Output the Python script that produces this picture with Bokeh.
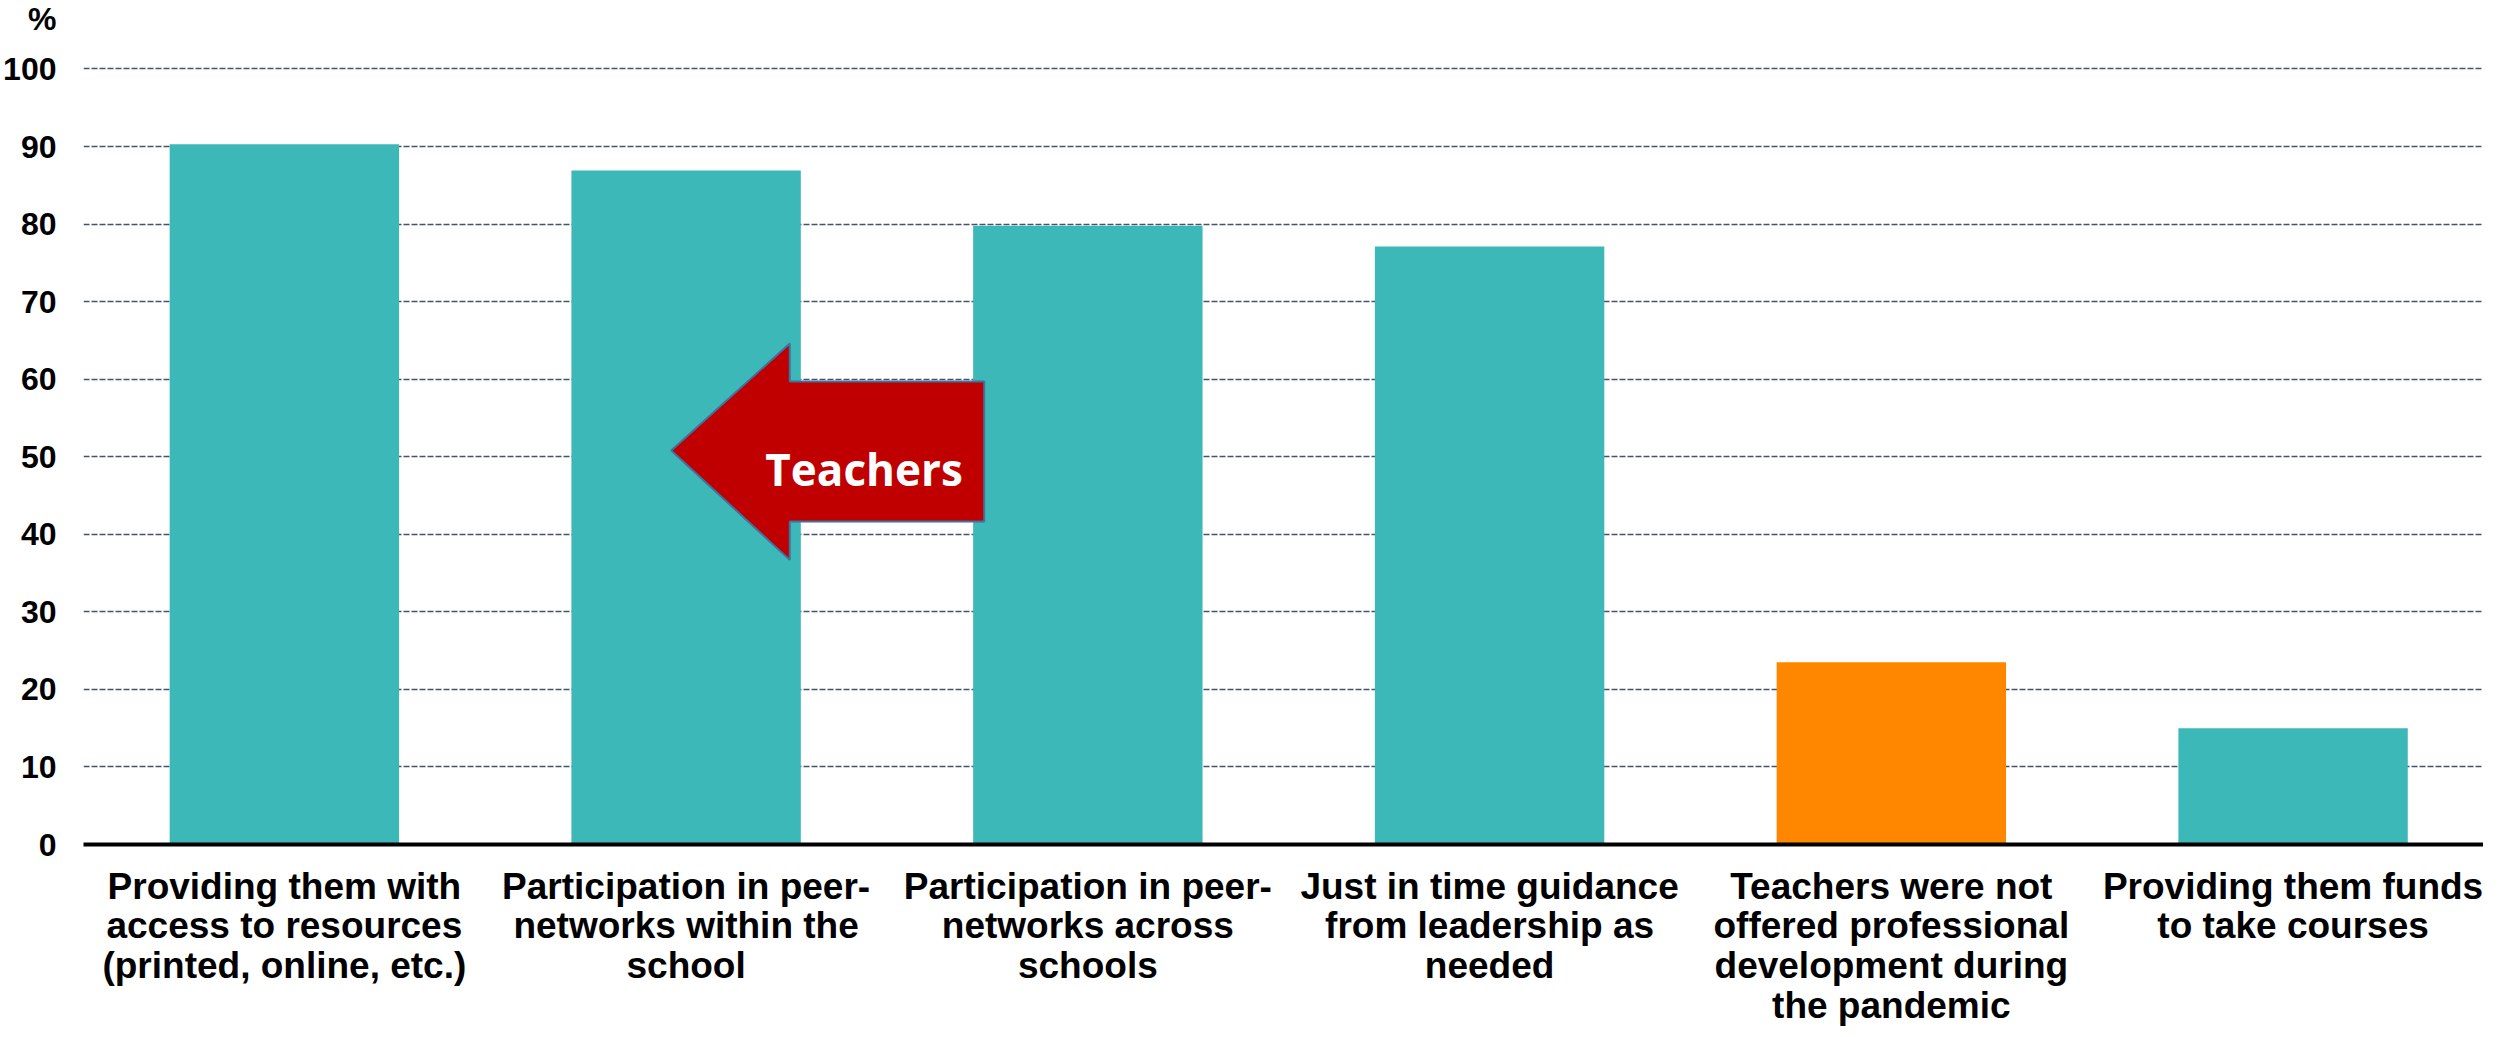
from bokeh.plotting import figure
from bokeh.models import Range1d, FixedTicker, ColumnDataSource
from bokeh.core.properties import value
from bokeh.embed import file_html
from bokeh.resources import INLINE

# ---- data ----
categories = [
    "Providing them with\naccess to resources\n(printed, online, etc.)",
    "Participation in peer-\nnetworks within the\nschool",
    "Participation in peer-\nnetworks across\nschools",
    "Just in time guidance\nfrom leadership as\nneeded",
    "Teachers were not\noffered professional\ndevelopment during\nthe pandemic",
    "Providing them funds\nto take courses",
]
values = [90.3, 86.9, 79.8, 77.1, 23.5, 15.0]
highlight = categories[4]
y_ticks = [0, 10, 20, 30, 40, 50, 60, 70, 80, 90, 100]
y_unit = "%"
arrow_text = "Teachers"

TEAL = "#3CB8B8"
ORANGE = "#FF8700"
FONT = "Liberation Sans"
UNIT_POS = 106.5  # where the unit sign sits, above the 100 line

xs = list(range(1, len(categories) + 1))
colors = [ORANGE if c == highlight else TEAL for c in categories]
src = ColumnDataSource(dict(x=xs, top=values, color=colors))

p = figure(width=2483, height=1030, output_backend="svg", toolbar_location=None,
           x_range=Range1d(0.5, 6.474), y_range=Range1d(0, 108.83),
           min_border_left=76, min_border_right=0, min_border_top=0, min_border_bottom=186)
p.outline_line_color = None
p.background_fill_color = "white"
p.border_fill_color = "white"

p.vbar(x="x", top="top", width=0.571, color="color", line_color=None, source=src)

# arrow annotation (Teachers)
ax = [1.963, 2.258, 2.258, 2.742, 2.742, 2.258, 2.258]
ay = [50.8, 64.6, 59.7, 59.7, 41.65, 41.65, 36.7]
p.patch(ax, ay, fill_color="#C00000", line_color="#41719C", line_width=2)
p.text(x=[2.443], y=[48.45], text=[arrow_text], text_color="white",
       text_font=value("Open Sans"), text_font_style="bold", text_font_size="44px",
       text_align="center", text_baseline="alphabetic")

# axes
p.xaxis.ticker = FixedTicker(ticks=xs)
p.xaxis.major_label_overrides = {x: c for x, c in zip(xs, categories)}
p.xaxis.major_label_text_font = FONT
p.xaxis.major_label_text_font_style = "bold"
p.xaxis.major_label_text_font_size = "37px"
p.xaxis.major_label_text_color = "black"
p.xaxis.major_label_text_line_height = 0.97
p.xaxis.major_label_standoff = 21
p.xaxis.major_tick_in = 0
p.xaxis.major_tick_out = 0
p.xaxis.minor_tick_line_color = None
p.xaxis.axis_line_color = "black"
p.xaxis.axis_line_width = 4

p.yaxis.ticker = FixedTicker(ticks=y_ticks + [UNIT_POS])
p.yaxis.major_label_overrides = {UNIT_POS: y_unit}
p.yaxis.major_label_text_font = FONT
p.yaxis.major_label_text_font_style = "bold"
p.yaxis.major_label_text_font_size = "32px"
p.yaxis.major_label_text_color = "black"
p.yaxis.major_label_standoff = 27
p.yaxis.major_tick_in = 0
p.yaxis.major_tick_out = 0
p.yaxis.minor_tick_line_color = None
p.yaxis.axis_line_color = None

p.xgrid.grid_line_color = None
p.ygrid.ticker = FixedTicker(ticks=y_ticks[1:])
p.ygrid.grid_line_color = "#44546A"
p.ygrid.grid_line_width = 1.5
p.ygrid.grid_line_dash = "6 2"

open("out.html", "w").write(file_html(p, INLINE))
